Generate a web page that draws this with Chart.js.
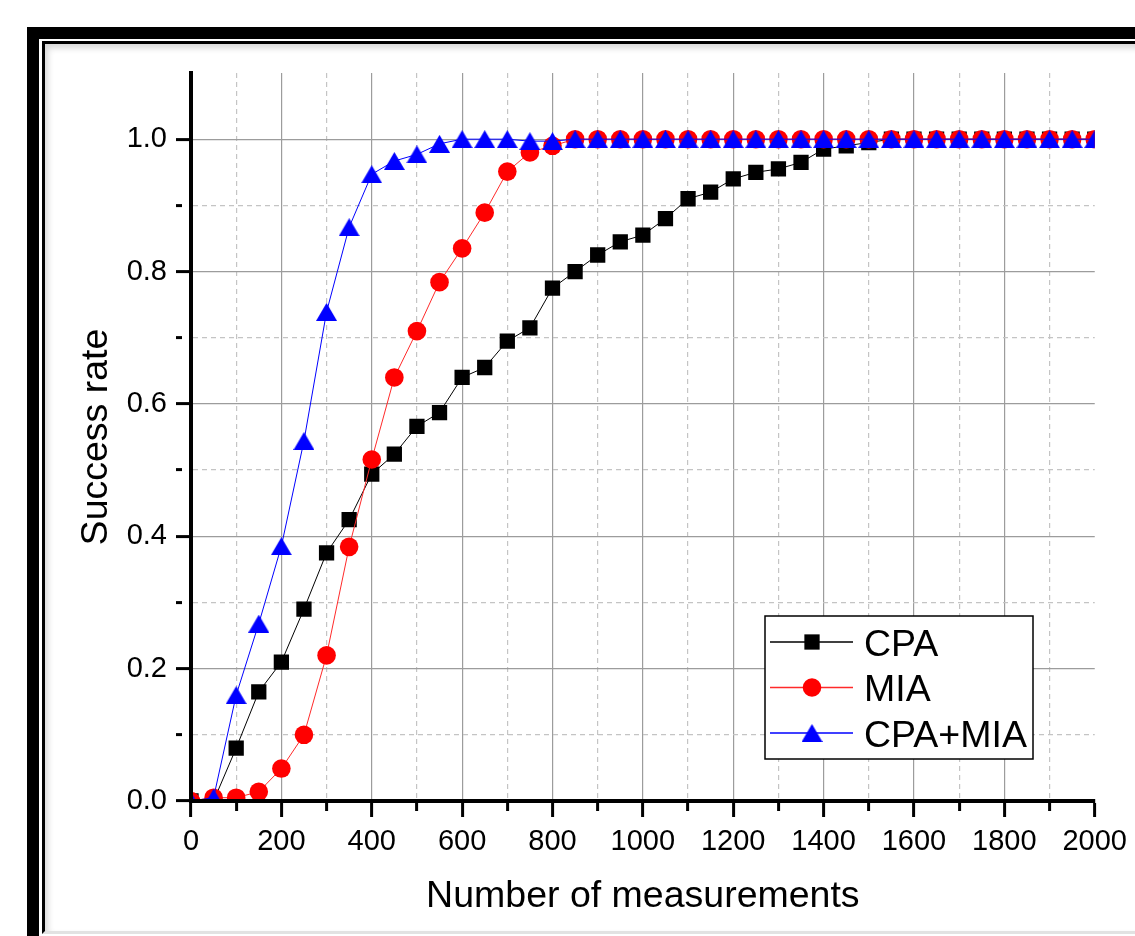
<!DOCTYPE html>
<html>
<head>
<meta charset="utf-8">
<title>Success rate vs number of measurements</title>
<script src="https://cdn.jsdelivr.net/npm/chart.js@4.4.0/dist/chart.umd.min.js"></script>
<style>
    html, body { margin: 0; padding: 0; background: #fff; }
    body { width: 1135px; height: 936px; position: relative; overflow: hidden; }
    #frame-outer {
        position: absolute; left: 27px; top: 27px; width: 1200px; height: 1000px;
        border-left: 12px solid #000; border-top: 12px solid #000;
    }
    #frame-inner {
        position: absolute; left: 42px; top: 41px; width: 1200px; height: 887px;
        border-left: 3px solid #000; border-top: 3px solid #000;
        border-bottom: 3px solid #e2e2e2;
        box-shadow: inset 3px 4px 6px rgba(0, 0, 0, 0.16);
    }
    #chart { position: absolute; left: 0; top: 0; }
</style>
</head>
<body>
<div id="frame-outer"></div>
<div id="frame-inner"></div>
<canvas id="chart" width="1135" height="936"></canvas>
<script>
    'use strict';

    // Number of measurements (x)
    const measurements = [
        0, 50, 100, 150, 200, 250, 300, 350, 400, 450,
        500, 550, 600, 650, 700, 750, 800, 850, 900, 950,
        1000, 1050, 1100, 1150, 1200, 1250, 1300, 1350, 1400, 1450,
        1500, 1550, 1600, 1650, 1700, 1750, 1800, 1850, 1900, 1950, 2000
    ];

    // Success rates
    const cpaRate = [
        0.000, 0.000, 0.080, 0.165, 0.210, 0.290, 0.375, 0.425, 0.494, 0.524,
        0.566, 0.587, 0.640, 0.655, 0.695, 0.715, 0.775, 0.800, 0.825, 0.845,
        0.855, 0.880, 0.910, 0.920, 0.940, 0.950, 0.955, 0.965, 0.985, 0.990,
        0.995, 1.000, 1.000, 1.000, 1.000, 1.000, 1.000, 1.000, 1.000, 1.000, 1.000
    ];
    const miaRate = [
        0.000, 0.005, 0.005, 0.014, 0.049, 0.100, 0.220, 0.384, 0.516, 0.640,
        0.710, 0.784, 0.835, 0.889, 0.951, 0.980, 0.990, 1.000, 1.000, 1.000,
        1.000, 1.000, 1.000, 1.000, 1.000, 1.000, 1.000, 1.000, 1.000, 1.000,
        1.000, 1.000, 1.000, 1.000, 1.000, 1.000, 1.000, 1.000, 1.000, 1.000, 1.000
    ];
    const comboRate = [
        0.000, 0.005, 0.160, 0.268, 0.385, 0.544, 0.739, 0.867, 0.947, 0.967,
        0.977, 0.993, 1.000, 1.000, 1.000, 0.997, 0.997, 1.000, 1.000, 1.000,
        1.000, 1.000, 1.000, 1.000, 1.000, 1.000, 1.000, 1.000, 1.000, 1.000,
        1.000, 1.000, 1.000, 1.000, 1.000, 1.000, 1.000, 1.000, 1.000, 1.000, 1.000
    ];

    const seriesNames = ['CPA', 'MIA', 'CPA+MIA'];

    const FONT = "'Liberation Sans', Arial, sans-serif";
    const GRID_MAJOR = '#9c9c9c';
    const GRID_MINOR = '#c4c4c4';

    // triangle marker centred on its bounding box (Origin style)
    function makeTriangle(color) {
        const w = 21, h = 18;
        const c = document.createElement('canvas');
        c.width = w;
        c.height = h;
        const g = c.getContext('2d');
        g.fillStyle = color;
        g.beginPath();
        g.moveTo(w / 2, 0);
        g.lineTo(w, h);
        g.lineTo(0, h);
        g.closePath();
        g.fill();
        return c;
    }
    const blueTriangle = makeTriangle('#0000ff');

    const toPoints = (ys) => measurements.map((x, i) => ({ x: x, y: ys[i] }));

    // helpers for major / minor grid handling
    const isMinorX = (v) => Math.round(v) % 200 !== 0;
    const isMinorY = (v) => Math.round(v * 10) % 2 !== 0;

    function drawMarker(ctx, ds, x, y) {
        const style = ds.pointStyle;
        ctx.fillStyle = ds.pointBackgroundColor;
        if (style === 'rect') {
            const s = ds.pointRadius * Math.SQRT1_2;
            ctx.fillRect(x - s, y - s, 2 * s, 2 * s);
        } else if (style === 'circle') {
            ctx.beginPath();
            ctx.arc(x, y, ds.pointRadius, 0, Math.PI * 2);
            ctx.fill();
        } else if (style instanceof HTMLCanvasElement) {
            ctx.drawImage(style, x - style.width / 2, y - style.height / 2);
        }
    }

    // Boxed legend inside the plot, lower right
    const legendBox = {
        id: 'legendBox',
        afterDraw(chart) {
            const ctx = chart.ctx;
            const area = chart.chartArea;
            const bx = area.left + 574, by = area.top + 543;
            const bw = 268, bh = 143;

            ctx.save();
            ctx.fillStyle = '#fff';
            ctx.fillRect(bx, by, bw, bh);
            ctx.strokeStyle = '#000';
            ctx.lineWidth = 1.5;
            ctx.strokeRect(bx, by, bw, bh);

            ctx.font = '37.5px ' + FONT;
            ctx.textBaseline = 'alphabetic';
            ctx.textAlign = 'left';

            chart.data.datasets.forEach((ds, i) => {
                const rowY = by + 26 + i * 45.5;
                ctx.strokeStyle = ds.borderColor;
                ctx.lineWidth = 1.5;
                ctx.beginPath();
                ctx.moveTo(bx + 5, rowY);
                ctx.lineTo(bx + 88, rowY);
                ctx.stroke();
                drawMarker(ctx, ds, bx + 47, rowY);
                ctx.fillStyle = '#000';
                ctx.fillText(ds.label, bx + 99, rowY + 13.5);
            });
            ctx.restore();
        }
    };

    const chart = new Chart(document.getElementById('chart'), {
        type: 'line',
        data: {
            datasets: [
                {
                    label: seriesNames[0],
                    data: toPoints(cpaRate),
                    borderColor: '#000000',
                    borderWidth: 1,
                    pointStyle: 'rect',
                    pointRadius: 10.8,
                    pointBackgroundColor: '#000000',
                    pointBorderWidth: 0,
                    order: 3
                },
                {
                    label: seriesNames[1],
                    data: toPoints(miaRate),
                    borderColor: '#ff2a2a',
                    borderWidth: 1,
                    pointStyle: 'circle',
                    pointRadius: 9.3,
                    pointBackgroundColor: '#ff0000',
                    pointBorderWidth: 0,
                    order: 2
                },
                {
                    label: seriesNames[2],
                    data: toPoints(comboRate),
                    borderColor: '#0000ff',
                    borderWidth: 1,
                    pointStyle: blueTriangle,
                    pointRadius: 11,
                    pointBackgroundColor: '#0000ff',
                    pointBorderWidth: 0,
                    order: 1
                }
            ]
        },
        options: {
            responsive: false,
            animation: false,
            devicePixelRatio: 1,
            clip: 0,
            layout: {
                padding: { top: 73, right: 39, left: 0, bottom: 0 }
            },
            elements: {
                line: { tension: 0 }
            },
            plugins: {
                legend: { display: false },
                tooltip: { enabled: false }
            },
            scales: {
                x: {
                    type: 'linear',
                    min: 0,
                    max: 2000,
                    afterFit: (scale) => { scale.height = 135; },
                    ticks: {
                        stepSize: 100,
                        autoSkip: false,
                        maxRotation: 0,
                        padding: 8,
                        color: '#000',
                        font: { family: FONT, size: 29 },
                        callback: (v) => isMinorX(v) ? '' : String(v)
                    },
                    grid: {
                        lineWidth: 1.2,
                        color: (c) => {
                            if (!c.tick || c.tick.value <= 0 || c.tick.value >= 2000) return 'rgba(0,0,0,0)';
                            return isMinorX(c.tick.value) ? GRID_MINOR : GRID_MAJOR;
                        },
                        tickColor: '#000',
                        tickWidth: 3,
                        tickLength: 16,
                        tickBorderDash: (c) => (c.tick && isMinorX(c.tick.value)) ? [8, 100] : []
                    },
                    border: {
                        color: '#000',
                        width: 4,
                        z: 1,
                        dash: (c) => (c.tick && isMinorX(c.tick.value)) ? [5, 4] : []
                    },
                    title: {
                        display: true,
                        text: 'Number of measurements',
                        color: '#000',
                        font: { family: FONT, size: 37.5 },
                        padding: { top: 0, bottom: 17 }
                    }
                },
                y: {
                    min: 0,
                    max: 1.1,
                    afterFit: (scale) => { scale.width = 191; },
                    ticks: {
                        stepSize: 0.1,
                        autoSkip: false,
                        padding: 9,
                        color: '#000',
                        font: { family: FONT, size: 29 },
                        callback: (v) => {
                            const k = Math.round(v * 10);
                            return (k % 2 === 0 && k <= 10) ? (k / 10).toFixed(1) : '';
                        }
                    },
                    grid: {
                        lineWidth: 1.2,
                        color: (c) => {
                            if (!c.tick || c.tick.value <= 0 || c.tick.value > 1.05) return 'rgba(0,0,0,0)';
                            return isMinorY(c.tick.value) ? GRID_MINOR : GRID_MAJOR;
                        },
                        tickColor: (c) => (c.tick && c.tick.value > 1.05) ? 'rgba(0,0,0,0)' : '#000',
                        tickWidth: 3,
                        tickLength: 15,
                        tickBorderDash: (c) => (c.tick && isMinorY(c.tick.value)) ? [6, 100] : []
                    },
                    border: {
                        color: '#000',
                        width: 4,
                        z: 1,
                        dash: (c) => (c.tick && isMinorY(c.tick.value)) ? [5, 4] : []
                    },
                    title: {
                        display: true,
                        text: 'Success rate',
                        color: '#000',
                        font: { family: FONT, size: 37.5 },
                        padding: { top: 74, bottom: 0 }
                    }
                }
            }
        },
        plugins: [legendBox]
    });
</script>
</body>
</html>
